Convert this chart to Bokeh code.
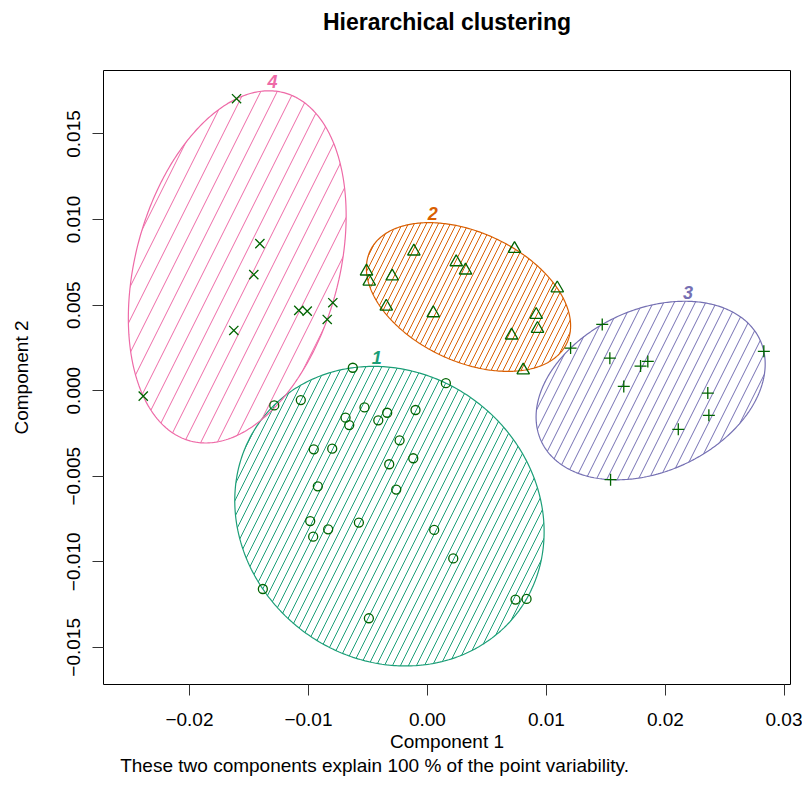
import numpy as np
from bokeh.plotting import figure
from bokeh.models import Range1d, FixedTicker, Title, ColumnDataSource, LinearAxis
from bokeh.embed import file_html
from bokeh.resources import INLINE
from bokeh.core.properties import value

# ---------------- data (component scores) ----------------
c1_x = [-0.00627, 0.00155, -0.01287, -0.01064, -0.00529, -0.00688, -0.00657, -0.00413,
        -0.00338, -0.00100, -0.00234, -0.00955, -0.00800, -0.00119, -0.00321, -0.00921,
        -0.00262, -0.00985, -0.00576, -0.00834, -0.00960, 0.00057, 0.00217, -0.01383,
        0.00740, 0.00833, -0.00492]
c1_y = [0.00134, 0.00044, -0.00086, -0.00055, -0.00098, -0.00158, -0.00201, -0.00173,
        -0.00129, -0.00113, -0.00290, -0.00343, -0.00339, -0.00395, -0.00430, -0.00559,
        -0.00578, -0.00762, -0.00771, -0.00810, -0.00853, -0.00814, -0.00980, -0.01159,
        -0.01221, -0.01217, -0.01330]

c2_x = [-0.00114, 0.00732, -0.00512, -0.00489, -0.00296, 0.00242, 0.00320, 0.01091,
        -0.00346, 0.00049, 0.00914, 0.00925, 0.00707, 0.00805]
c2_y = [0.00814, 0.00829, 0.00697, 0.00638, 0.00668, 0.00751, 0.00703, 0.00599,
        0.00492, 0.00453, 0.00444, 0.00362, 0.00323, 0.00119]

c3_x = [0.01469, 0.01203, 0.01533, 0.01791, 0.01852, 0.01650, 0.02827, 0.02356,
        0.02365, 0.02108, 0.01539]
c3_y = [0.00387, 0.00249, 0.00190, 0.00144, 0.00171, 0.00025, 0.00230, -0.00014,
        -0.00144, -0.00226, -0.00520]

c4_x = [-0.01604, -0.01408, -0.01459, -0.01081, -0.01010, -0.00795, -0.00842, -0.01627,
        -0.02388]
c4_y = [0.01706, 0.00859, 0.00678, 0.00469, 0.00465, 0.00514, 0.00416, 0.00352,
        -0.00032]

cluster_names = ["1", "2", "3", "4"]
cluster_colors = ["#1B9E77", "#D95F02", "#7570B3", "#EE6AA7"]
cluster_markers = ["circle", "triangle", "cross", "x"]

x_ticks = [-0.02, -0.01, 0, 0.01, 0.02, 0.03]
x_tick_labels = ["\u22120.02", "\u22120.01", "0.00", "0.01", "0.02", "0.03"]
y_ticks = [-0.015, -0.01, -0.005, 0, 0.005, 0.01, 0.015]
y_tick_labels = ["\u22120.015", "\u22120.010", "\u22120.005", "0.000", "0.005", "0.010", "0.015"]

title_text = "Hierarchical clustering"
x_label = "Component 1"
y_label = "Component 2"
sub_text = "These two components explain 100 % of the point variability."

# ---------------- styling ----------------
FONT = "Liberation Sans"
point_color = "#006400"
marker_sizes = [9, 12.5, 12, 13]
hatch_scales = [16, 12, 21, 33]
FRAME_W, FRAME_H = 687, 614
X0, X1 = -0.02722, 0.03051
Y0, Y1 = -0.01717, 0.01871


def spanning_ellipse(x, y, tol=1e-9, n=400):
    """Minimum-area ellipse containing all points (Khachiyan)."""
    S = 1000.0
    P = np.column_stack([x, y]) * S
    N, d = P.shape
    Q = np.vstack([P.T, np.ones(N)])
    u = np.full(N, 1.0 / N)
    for _ in range(200000):
        X = (Q * u) @ Q.T
        M = np.einsum("ij,ji->i", Q.T @ np.linalg.inv(X), Q)
        j = int(np.argmax(M))
        step = (M[j] - d - 1) / ((d + 1) * (M[j] - 1))
        nu = (1 - step) * u
        nu[j] += step
        if np.linalg.norm(nu - u) < tol:
            u = nu
            break
        u = nu
    c = P.T @ u
    A = np.linalg.inv((P.T * u) @ P - np.outer(c, c)) / d
    vals, vecs = np.linalg.eigh(A)
    t = np.linspace(0, 2 * np.pi, n)
    circ = np.vstack([np.cos(t), np.sin(t)])
    pts = c[:, None] + vecs @ (circ / np.sqrt(vals)[:, None])
    return pts[0] / S, pts[1] / S


p = figure(frame_width=FRAME_W, frame_height=FRAME_H,
           min_border_left=103, min_border_right=12, min_border_top=70, min_border_bottom=116,
           x_range=Range1d(X0, X1), y_range=Range1d(Y0, Y1),
           output_backend="svg", toolbar_location=None)

p.background_fill_color = "white"
p.border_fill_color = "white"
p.outline_line_color = "black"
p.outline_line_width = 1
p.xgrid.visible = False
p.ygrid.visible = False

for ax in (p.xaxis[0], p.yaxis[0]):
    ax.axis_line_color = None
    ax.major_tick_in = 0
    ax.major_tick_out = 11
    ax.major_tick_line_color = "#333333"
    ax.minor_tick_line_color = None
    ax.major_label_text_font = FONT
    ax.major_label_text_font_size = "19px"
    ax.major_label_text_color = "black"
    ax.axis_label_text_font = FONT
    ax.axis_label_text_font_size = "19px"
    ax.axis_label_text_font_style = "normal"
    ax.axis_label_text_color = "black"

p.xaxis.ticker = FixedTicker(ticks=x_ticks)
p.xaxis.major_label_overrides = dict(zip(x_ticks, x_tick_labels))
p.yaxis.ticker = FixedTicker(ticks=y_ticks)
p.yaxis.major_label_overrides = dict(zip(y_ticks, y_tick_labels))
p.yaxis.major_label_orientation = "vertical"
p.xaxis.axis_label = x_label
p.yaxis.axis_label = y_label
p.xaxis.major_label_standoff = 17
p.xaxis.axis_label_standoff = 2
p.yaxis.major_label_standoff = 12
p.yaxis.axis_label_standoff = 33

# main title as the label of an otherwise invisible top axis
top_axis = LinearAxis(ticker=FixedTicker(ticks=[]), axis_line_color=None,
                      major_tick_line_color=None, minor_tick_line_color=None,
                      major_tick_in=0, major_tick_out=0, minor_tick_out=0,
                      major_label_standoff=0, major_label_text_font_size="0px",
                      axis_label=title_text, axis_label_text_font=FONT,
                      axis_label_text_font_size="23px", axis_label_text_font_style="bold",
                      axis_label_text_color="black", axis_label_standoff=36)
p.add_layout(top_axis, "above")

clusters = [(c1_x, c1_y), (c2_x, c2_y), (c3_x, c3_y), (c4_x, c4_y)]
lab_x, lab_y = [], []
for (cx, cy), col, hs in zip(clusters, cluster_colors, hatch_scales):
    ex, ey = spanning_ellipse(cx, cy)
    p.patch(ex, ey, fill_color=None, line_color=col, line_width=1.2,
            hatch_pattern="/", hatch_color=col, hatch_scale=hs, hatch_weight=1.0)
    k = int(np.argmax(ey))
    lab_x.append(ex[k])
    lab_y.append(ey[k])

for (cx, cy), mk, ms in zip(clusters, cluster_markers, marker_sizes):
    p.scatter(cx, cy, marker=mk, size=ms, line_color=point_color, fill_color=None,
              line_width=1.3)

lab_src = ColumnDataSource(dict(x=lab_x, y=lab_y, text=cluster_names, color=cluster_colors))
p.text(x="x", y="y", text="text", source=lab_src, text_color="color",
       text_font=value(FONT), text_font_size="18px", text_font_style="bold italic",
       text_align="center", text_baseline="middle", x_offset=3, y_offset=-9)

p.add_layout(Title(text=sub_text, align="left", offset=16.7, text_font=FONT,
                   text_font_size="19px", text_font_style="normal", text_color="black",
                   vertical_align="top", standoff=0), "below")

open("out.html", "w").write(file_html(p, INLINE))
